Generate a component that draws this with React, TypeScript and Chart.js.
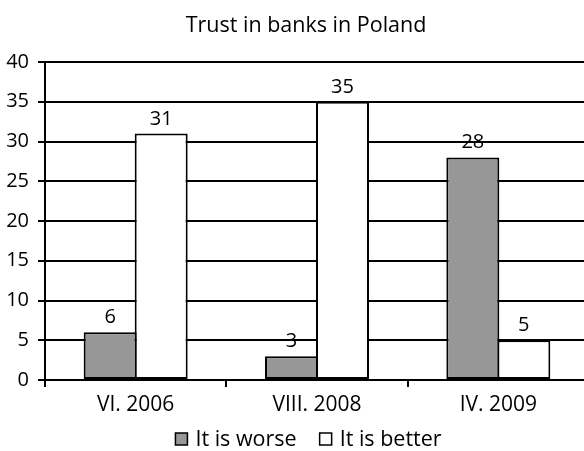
import React, { useEffect, useRef } from "react";
import { Chart, registerables } from "chart.js";

Chart.register(...registerables);

const TITLE = "Trust in banks in Poland";
const CATEGORIES = ["VI. 2006", "VIII. 2008", "IV. 2009"];
const SERIES_NAMES = ["It is worse", "It is better"];
const WORSE = [6, 3, 28];
const BETTER = [31, 35, 5];
const Y_MIN = 0;
const Y_MAX = 40;
const Y_STEP = 5;

const FONT = "'Open Sans', 'DejaVu Sans', sans-serif";
const TITLE_SIZE = 21.5;
const X_SIZE = 21;
const Y_SIZE = 20;
const LABEL_SIZE = 20;
const LEGEND_SIZE = 21.5;
const GRAY = "#979797";

export default function App() {
  const ref = useRef<HTMLCanvasElement | null>(null);

  useEffect(() => {
    const canvas = ref.current;
    if (!canvas) return;

    const overlay = {
      id: "overlay",
      afterDatasetsDraw(chart: any) {
        const ctx = chart.ctx;
        ctx.save();
        ctx.fillStyle = "#000";
        ctx.font = `${LABEL_SIZE}px ${FONT}`;
        ctx.textAlign = "center";
        ctx.textBaseline = "alphabetic";
        chart.data.datasets.forEach((ds: any, di: number) => {
          const meta = chart.getDatasetMeta(di);
          meta.data.forEach((bar: any, i: number) => {
            ctx.fillText(String(ds.data[i]), bar.x, bar.y - 9);
          });
        });
        ctx.restore();
      },
      afterDraw(chart: any) {
        const ctx = chart.ctx;
        ctx.save();
        ctx.fillStyle = "#000";
        ctx.textBaseline = "alphabetic";
        ctx.textAlign = "center";
        ctx.font = `${TITLE_SIZE}px ${FONT}`;
        ctx.fillText(TITLE, 306, 31.5);

        // legend
        ctx.font = `${LEGEND_SIZE}px ${FONT}`;
        ctx.textAlign = "left";
        const box = 12;
        const gap = 8;
        const spacing = 23;
        const widths = chart.data.datasets.map((d: any) => ctx.measureText(d.label).width);
        let total = 0;
        widths.forEach((w: number, i: number) => {
          total += box + gap + w + (i > 0 ? spacing : 0);
        });
        let x = 308.5 - total / 2;
        const baseY = 446;
        chart.data.datasets.forEach((d: any, i: number) => {
          ctx.fillStyle = d.backgroundColor;
          ctx.fillRect(x, baseY - 13, box, box);
          ctx.strokeStyle = "#000";
          ctx.lineWidth = 1.5;
          ctx.strokeRect(x, baseY - 13, box, box);
          ctx.fillStyle = "#000";
          ctx.fillText(d.label, x + box + gap, baseY);
          x += box + gap + widths[i] + spacing;
        });
        ctx.restore();
      },
    };

    const chart = new Chart(canvas, {
      type: "bar",
      data: {
        labels: CATEGORIES,
        datasets: [
          {
            label: SERIES_NAMES[0],
            data: WORSE,
            backgroundColor: GRAY,
            borderColor: "#000",
            borderWidth: 2,
            borderSkipped: false,
            categoryPercentage: 0.5626,
            barPercentage: 1.039,
          },
          {
            label: SERIES_NAMES[1],
            data: BETTER,
            backgroundColor: "#ffffff",
            borderColor: "#000",
            borderWidth: 2,
            borderSkipped: false,
            categoryPercentage: 0.5626,
            barPercentage: 1.039,
          },
        ],
      },
      options: {
        responsive: false,
        animation: false,
        devicePixelRatio: 1,
        layout: { padding: { top: 62, right: 25, bottom: 0, left: 0 } },
        plugins: {
          legend: { display: false },
          title: { display: false },
          tooltip: { enabled: false },
        },
        scales: {
          x: {
            offset: true,
            grid: {
              display: true,
              offset: true,
              drawOnChartArea: false,
              drawTicks: true,
              tickLength: 7,
              color: "#000",
              lineWidth: 2,
            },
            border: { display: true, color: "#000", width: 2 },
            ticks: {
              color: "#000",
              font: { family: FONT, size: X_SIZE },
              padding: 5,
              maxRotation: 0,
            },
            afterFit(scale: any) {
              scale.height = 71;
            },
          },
          y: {
            min: Y_MIN,
            max: Y_MAX,
            ticks: {
              stepSize: Y_STEP,
              color: "#000",
              font: { family: FONT, size: Y_SIZE },
              padding: 9,
            },
            grid: {
              color: "#000",
              lineWidth: 2,
              tickLength: 7,
              drawTicks: true,
            },
            border: { display: true, color: "#000", width: 2 },
            afterFit(scale: any) {
              scale.width = 45;
            },
          },
        },
      },
      plugins: [overlay],
    });

    return () => chart.destroy();
  }, []);

  return (
    <div
      style={{
        position: "absolute",
        left: 0,
        top: 0,
        width: 584,
        height: 451,
        overflow: "hidden",
        background: "#fff",
      }}
    >
      <canvas ref={ref} width={614} height={451} style={{ display: "block", width: 614, height: 451 }} />
    </div>
  );
}
